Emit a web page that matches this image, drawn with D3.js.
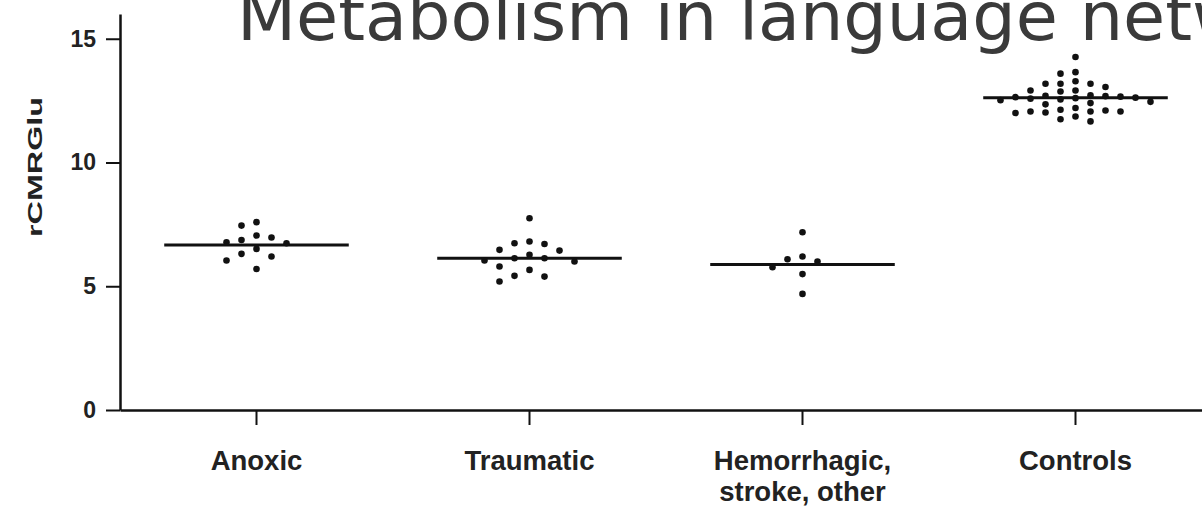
<!DOCTYPE html>
<html>
<head>
<meta charset="utf-8">
<script src="https://cdn.jsdelivr.net/npm/d3@7/dist/d3.min.js"></script>
<style>
  html, body { margin: 0; padding: 0; background: #ffffff; overflow: hidden; }
  svg { display: block; }
</style>
</head>
<body>
<svg id="chart" width="1202" height="507"></svg>
<script>
// ---- data ----
const title = "Metabolism in language network";
const yLabel = "rCMRGlu";
const categories = ["Anoxic", "Traumatic", "Hemorrhagic, stroke, other", "Controls"];
const categoryLines = [["Anoxic"], ["Traumatic"], ["Hemorrhagic,", "stroke, other"], ["Controls"]];
const yTicks = [0, 5, 10, 15];

const anoxic = [7.59, 7.45, 7.05, 6.97, 6.87, 6.78, 6.74, 6.51, 6.31, 6.20, 6.04, 5.70];
const traumatic = [7.75, 6.81, 6.74, 6.71, 6.47, 6.44, 6.27, 6.13, 6.13, 6.04, 6.00, 5.80, 5.66, 5.42, 5.39, 5.19];
const hemorrhagic = [7.18, 6.20, 6.09, 6.00, 5.77, 5.49, 4.69];
const controls = [14.26, 13.65, 13.59, 13.28, 13.18, 13.18, 13.18, 13.05, 12.91, 12.91, 12.87,
                  12.72, 12.70, 12.68, 12.66, 12.64, 12.62, 12.60, 12.58, 12.55, 12.52,
                  12.45, 12.40, 12.35,
                  12.20, 12.13, 12.10, 12.06, 12.06, 12.06, 12.02, 12.00,
                  11.86, 11.75, 11.66];
const groupMeans = [6.67, 6.13, 5.88, 12.62];
const groups = [anoxic, traumatic, hemorrhagic, controls];

// ---- layout ----
const svg = d3.select("#chart");
const x = d3.scaleBand().domain(categories).range([120, 1212]).padding(0);
const y = d3.scaleLinear().domain([0, 16]).range([410, 14]);

// title
svg.append("text")
  .attr("x", 237).attr("y", 40)
  .attr("font-family", "DejaVu Sans")
  .attr("font-size", 68.5)
  .attr("fill", "#3a3a3a")
  .text(title);

// y axis
const yAxis = svg.append("g")
  .attr("transform", "translate(120,0)")
  .call(d3.axisLeft(y).tickValues(yTicks).tickSize(14).tickSizeOuter(0).tickPadding(10));
yAxis.select(".domain").attr("stroke", "#111").attr("stroke-width", 2.5);
yAxis.selectAll(".tick line").attr("stroke", "#111").attr("stroke-width", 2);
yAxis.selectAll(".tick text")
  .attr("font-family", "Liberation Sans, Arial, sans-serif")
  .attr("font-weight", "bold")
  .attr("font-size", 23)
  .attr("fill", "#222");

// y label
svg.append("text")
  .attr("transform", "translate(42,167) rotate(-90)")
  .attr("text-anchor", "middle")
  .attr("font-family", "Liberation Sans, Arial, sans-serif")
  .attr("font-weight", "bold")
  .attr("font-size", 21)
  .attr("fill", "#222")
  .attr("textLength", 140)
  .attr("lengthAdjust", "spacingAndGlyphs")
  .text(yLabel);

// x axis
const xAxis = svg.append("g")
  .attr("transform", "translate(0,410)")
  .call(d3.axisBottom(x).tickSize(15).tickSizeOuter(0));
xAxis.select(".domain").attr("stroke", "#111").attr("stroke-width", 2.5);
xAxis.selectAll(".tick line").attr("stroke", "#111").attr("stroke-width", 2);
xAxis.selectAll(".tick text").each(function(d, i) {
  const t = d3.select(this);
  t.text(null)
    .attr("y", 0).attr("dy", null)
    .attr("font-family", "Liberation Sans, Arial, sans-serif")
    .attr("font-weight", "bold")
    .attr("font-size", 27.5)
    .attr("fill", "#222");
  categoryLines[i].forEach((line, j) => {
    t.append("tspan").attr("x", 0).attr("y", 60 + j * 31).text(line);
  });
});

// column-scatter layout: dots on a horizontal grid; same-column dots must be
// at least `gap` px apart vertically; gap shrinks until the swarm fits the width
const spacing = 15, maxSlot = 5;
function place(values, gap) {
  const pts = values.map(v => ({ v, py: y(v) })).sort((a, b) => a.py - b.py);
  const order = [0];
  for (let k = 1; k <= 20; k++) order.push(-k, k);
  let widest = 0;
  pts.forEach((p, i) => {
    for (const s of order) {
      const clash = pts.slice(0, i).some(q => q.slot === s && Math.abs(q.py - p.py) < gap);
      if (!clash) { p.slot = s; break; }
    }
    widest = Math.max(widest, Math.abs(p.slot));
  });
  return { pts, widest };
}
function swarm(values, cx) {
  let res;
  for (let gap = 12; gap >= 4; gap -= 0.5) {
    res = place(values, gap);
    if (res.widest <= maxSlot) break;
  }
  res.pts.forEach(p => { p.px = cx + p.slot * spacing; });
  return res.pts;
}

const plot = svg.append("g");
groups.forEach((vals, gi) => {
  const cx = x(categories[gi]) + x.bandwidth() / 2;
  const pts = swarm(vals, cx);
  plot.append("line")
    .attr("x1", cx - x.bandwidth() * 0.338)
    .attr("x2", cx + x.bandwidth() * 0.338)
    .attr("y1", y(groupMeans[gi]))
    .attr("y2", y(groupMeans[gi]))
    .attr("stroke", "#111")
    .attr("stroke-width", 3);
  plot.selectAll(null).data(pts).enter().append("circle")
    .attr("cx", d => d.px)
    .attr("cy", d => d.py)
    .attr("r", 3.3)
    .attr("fill", "#111");
});
</script>
</body>
</html>
